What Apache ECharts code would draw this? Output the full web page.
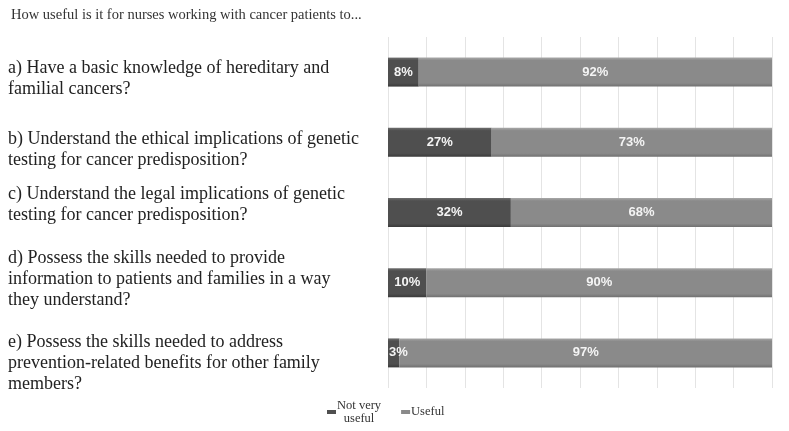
<!DOCTYPE html>
<html><head><meta charset="utf-8">
<script src="https://cdn.jsdelivr.net/npm/echarts@6/dist/echarts.min.js"></script>
<style>html,body{margin:0;padding:0;background:#fff}#c{width:789px;height:431px}</style>
</head><body><div id="c"></div>
<script>
var titleText = 'How useful is it for nurses working with cancer patients to...';
var categories = [
  'a) Have a basic knowledge of hereditary and\nfamilial cancers?',
  'b) Understand the ethical implications of genetic\ntesting for cancer predisposition?',
  'c) Understand the legal implications of genetic\ntesting for cancer predisposition?',
  'd) Possess the skills needed to provide\ninformation to patients and families in a way\nthey understand?',
  'e) Possess the skills needed to address\nprevention-related benefits for other family\nmembers?'
];
var seriesNames = ['Not very useful', 'Useful'];
var notVeryUseful = [8, 27, 32, 10, 3];
var useful = [92, 73, 68, 90, 97];
// vertical nudges (px) of the question labels relative to their bar centre
var labelShift = [7, 7, -8, -3, 10];

var chart = echarts.init(document.getElementById('c'));
function grad(top, mid, bot){
  return new echarts.graphic.LinearGradient(0,0,0,1,[
    {offset:0,color:top},{offset:0.1,color:mid},{offset:0.88,color:mid},{offset:1,color:bot}]);
}
var labelStyle = {show:true, position:'inside', color:'#f4f4f4', fontFamily:'Liberation Sans Narrow, Liberation Sans', fontWeight:'bold', fontSize:13,
  formatter:function(p){return p.value+'%';}};
function barData(vals){
  return vals.map(function(v){
    return v < 5 ? {value:v, label:{position:'insideLeft', distance:1}} : v;
  });
}
chart.setOption({
  animation:false,
  title:{text:titleText, left:6, top:3, textStyle:{fontFamily:'Liberation Serif', fontSize:14.5, fontWeight:'normal', color:'#333'}},
  legend:{left:322, top:394, itemWidth:9, itemHeight:4, itemGap:20, icon:'rect',
    data:seriesNames,
    formatter:function(n){return n==='Not very useful'?'{c|Not very}\n{c|useful}':'{c|'+n+'}';},
    textStyle:{fontFamily:'Liberation Serif', fontSize:12.5, color:'#333', padding:[0,0,0,-4],
      rich:{c:{fontFamily:'Liberation Serif', fontSize:12.5, color:'#333', lineHeight:13, align:'center'}}}},
  grid:{left:388, right:17, top:37, bottom:43, containLabel:false, outerBoundsMode:'none'},
  xAxis:{type:'value', min:0, max:100, interval:10,
    axisLabel:{show:false}, axisLine:{show:false}, axisTick:{show:false},
    splitLine:{show:true, lineStyle:{color:'#e4e4e4', width:1}}},
  yAxis:{type:'category', inverse:true, data:categories,
    axisLine:{show:false}, axisTick:{show:false}, axisLabel:{show:false}},
  series:[
    {name:seriesNames[0], type:'bar', stack:'a', barWidth:29, data:barData(notVeryUseful),
     itemStyle:{color:grad('#6e6e6e','#4f4f4f','#3a3a3a')}, label:labelStyle},
    {name:seriesNames[1], type:'bar', stack:'a', barWidth:29, data:barData(useful),
     itemStyle:{color:grad('#a8a8a8','#8a8a8a','#707070')}, label:labelStyle}
  ]
});
var texts = categories.map(function(c,i){
  var y = chart.convertToPixel({yAxisIndex:0}, c);
  return {type:'text', left:8, y:y + labelShift[i],
    style:{text:c, fontFamily:'Liberation Serif', fontSize:18, lineHeight:21, fill:'#222', verticalAlign:'middle', textVerticalAlign:'middle'}};
});
chart.setOption({graphic:texts});
</script></body></html>
